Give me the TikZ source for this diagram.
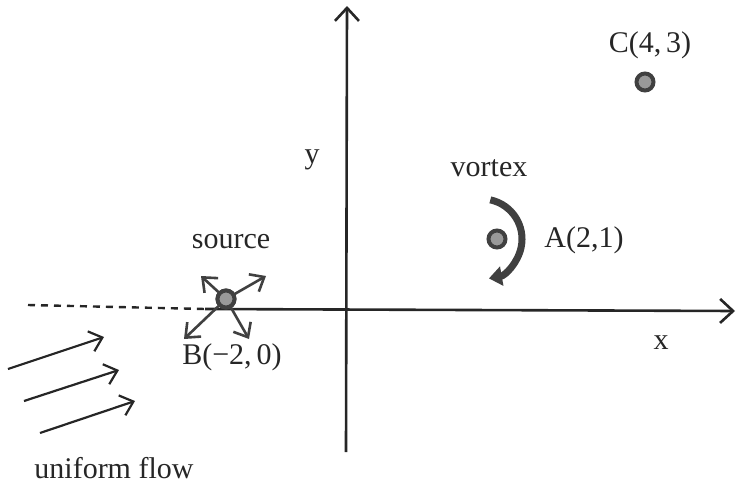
\documentclass[tikz,border=0pt]{standalone}
\usepackage{fontspec}
\setmainfont{Liberation Serif}
\usetikzlibrary{arrows.meta}
\begin{document}
\begin{tikzpicture}[x=1pt,y=-1pt,
  lbl/.style={font=\fontsize{30}{32}\selectfont, text=black!85, inner sep=0pt},
  axis/.style={line width=2.6pt, draw=black!85, -{Straight Barb[length=13pt,width=24pt,line width=2.6pt]}},
  pt/.style={circle, minimum size=17pt, inner sep=0pt, draw=black!75, line width=4pt, fill=black!40},
  srcarrow/.style={line width=2.6pt, draw=black!75, -{Straight Barb[length=12pt,width=20pt,line width=2.6pt]}},
  flowarrow/.style={line width=2.2pt, draw=black!85, -{Straight Barb[length=12pt,width=21pt,line width=2.2pt]}}
]
\useasboundingbox (0,0) rectangle (737,488);
% axes
\coordinate (xs) at (205,309);
\coordinate (xe) at (735,311);
\coordinate (xd) at (28,305);
\coordinate (ys) at (346,452);
\coordinate (ye) at (347,6);
\draw[line width=2.4pt, draw=black!85, dash pattern=on 7pt off 6pt] (xd) -- (xs);
\draw[axis] (xs) -- (xe);
\draw[axis] (ys) -- (ye);
\node[lbl] (xl) at (661,343) {x};
\node[lbl] (yl) at (312,160) {y};
% source B
\node[pt] (B) at (226,299) {};
\coordinate (b1) at (201,276);
\coordinate (b2) at (266,276);
\coordinate (b3) at (184,339);
\coordinate (b4) at (249,339);
\draw[srcarrow] (B.center) -- (b1);
\draw[srcarrow] (B.center) -- (b2);
\draw[srcarrow] (B.center) -- (b3);
\draw[srcarrow] (B.center) -- (b4);
\node[pt] (B) at (226,299) {};
\node[lbl] (src) at (231,242) {source};
\node[lbl] (Bl) at (232,357) {B(\char"2212 2,\,0)};
% vortex A
\node[pt] (A) at (497,239) {};
\coordinate (vc) at (482,239);
\draw[line width=7pt, draw=black!75, -{Triangle[length=13pt,width=19pt]}]
  ([shift={(78:40pt)}]vc) arc[start angle=78, end angle=-80, radius=40pt];
\node[lbl] (vl) at (489,168) {vortex};
\node[lbl] (Al) at (584,240) {A(2,1)};
% C
\node[pt] (C) at (645,82) {};
\node[lbl] (Cl) at (650,45) {C(4,\,3)};
% uniform flow
\coordinate (f1s) at (8,369);
\coordinate (f1e) at (104,337);
\coordinate (f2s) at (24,401);
\coordinate (f2e) at (119,370);
\coordinate (f3s) at (40,433);
\coordinate (f3e) at (135,401);
\draw[flowarrow] (f1s) -- (f1e);
\draw[flowarrow] (f2s) -- (f2e);
\draw[flowarrow] (f3s) -- (f3e);
\node[lbl] (uf) at (114,468) {uniform flow};
\end{tikzpicture}
\end{document}
